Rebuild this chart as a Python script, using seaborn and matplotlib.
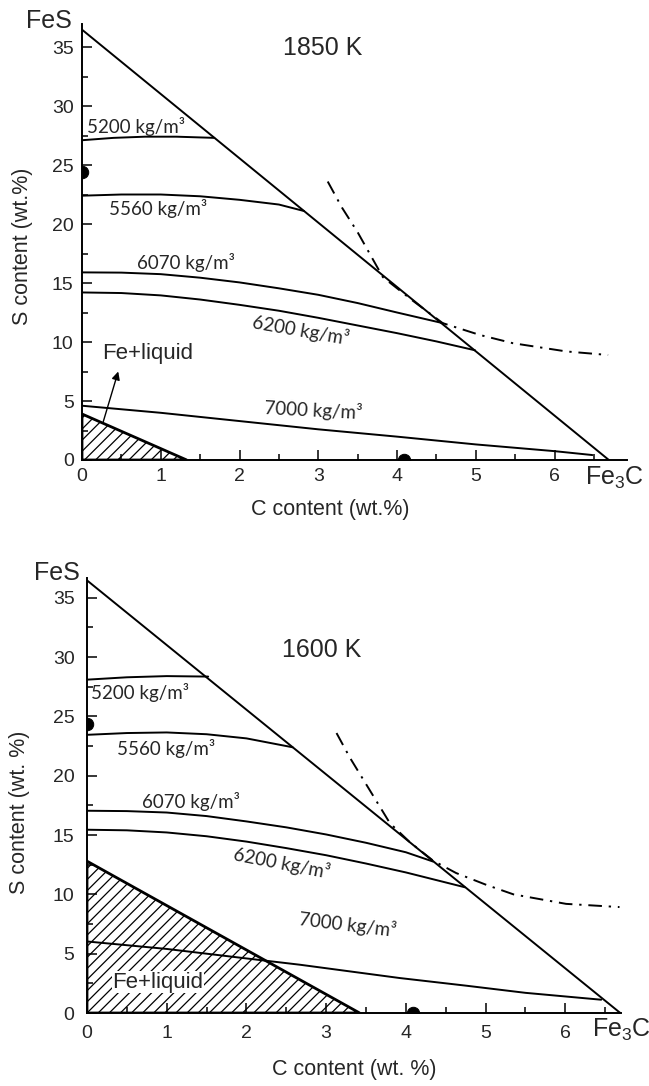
import numpy as np
import pandas as pd
import matplotlib
matplotlib.use("Agg")
import matplotlib.pyplot as plt
import seaborn as sns

# ---------------- data ----------------
fes_s = 36.47      # wt.% S in FeS
fe3c_c = 6.69      # wt.% C in Fe3C

# 1850 K isodensity curves (C wt.%, S wt.%)
t1_5200_x = [0, 0.4, 0.8, 1.2, 1.68]
t1_5200_y = [27.1, 27.3, 27.4, 27.4, 27.3]
t1_5560_x = [0, 0.5, 1.0, 1.5, 2.0, 2.5, 2.82]
t1_5560_y = [22.4, 22.5, 22.5, 22.35, 22.05, 21.65, 21.1]
t1_6070_x = [0, 0.5, 1.0, 1.5, 2.0, 2.5, 3.0, 3.5, 4.0, 4.58]
t1_6070_y = [15.9, 15.88, 15.75, 15.45, 15.05, 14.55, 14.0, 13.3, 12.5, 11.6]
t1_6200_x = [0, 0.5, 1.0, 1.5, 2.0, 2.5, 3.0, 3.5, 4.0, 4.5, 4.99]
t1_6200_y = [14.2, 14.15, 13.95, 13.6, 13.15, 12.65, 12.05, 11.4, 10.75, 10.05, 9.3]
t1_7000_x = [0, 1, 2, 3, 4, 5, 6, 6.48]
t1_7000_y = [4.6, 4.0, 3.3, 2.6, 1.98, 1.32, 0.75, 0.42]
t1_dd_x = [3.12, 3.3, 3.5, 3.82, 4.2, 4.58, 5.05, 5.47, 6.15, 6.68]
t1_dd_y = [23.6, 21.4, 19.3, 15.5, 13.5, 11.6, 10.6, 9.9, 9.2, 8.9]
t1_fe_x = [0, 0, 1.33]
t1_fe_y = [0, 3.9, 0]

# 1600 K isodensity curves
t2_5200_x = [0, 0.5, 1.0, 1.52]
t2_5200_y = [28.1, 28.3, 28.4, 28.36]
t2_5560_x = [0, 0.5, 1.0, 1.5, 2.0, 2.58]
t2_5560_y = [23.45, 23.6, 23.65, 23.5, 23.15, 22.4]
t2_6070_x = [0, 0.5, 1.0, 1.5, 2.0, 2.5, 3.0, 3.5, 4.0, 4.34]
t2_6070_y = [17.05, 17.02, 16.9, 16.6, 16.15, 15.65, 15.05, 14.35, 13.55, 12.77]
t2_6200_x = [0, 0.5, 1.0, 1.5, 2.0, 2.5, 3.0, 3.5, 4.0, 4.74]
t2_6200_y = [15.45, 15.4, 15.22, 14.9, 14.45, 13.9, 13.3, 12.6, 11.85, 10.6]
t2_7000_x = [0, 1, 2, 2.67, 3.92, 4.76, 5.5, 6.45]
t2_7000_y = [6.03, 5.4, 4.6, 4.07, 2.95, 2.3, 1.7, 1.12]
t2_dd_x = [3.13, 3.3, 3.5, 3.8, 4.05, 4.34, 4.63, 5.01, 5.35, 6.01, 6.68]
t2_dd_y = [23.6, 21.5, 19.3, 16.0, 14.4, 12.85, 11.8, 10.8, 10.0, 9.2, 8.93]
t2_fe_x = [0, 0, 3.42]
t2_fe_y = [0, 12.8, 0]

dots_x = [0, 4.09]
dots_y = [24.4, 0]

density_labels = ["5200 kg/m³", "5560 kg/m³", "6070 kg/m³", "6200 kg/m³", "7000 kg/m³"]

# ---------------- style ----------------
sns.set_style("ticks")
plt.rcParams["font.family"] = ["Liberation Sans", "DejaVu Sans"]
plt.rcParams["mathtext.fontset"] = "custom"
plt.rcParams["mathtext.rm"] = "Liberation Sans"
plt.rcParams["mathtext.it"] = "Liberation Sans:italic"
plt.rcParams["hatch.linewidth"] = 0.9

W, H = 649, 1086
fig = plt.figure(figsize=(W / 100, H / 100), dpi=100)

LW = 1.4
DD = (0, (7, 3.5, 1.2, 3.5))


def line(ax, xs, ys, **kw):
    sns.lineplot(x=xs, y=ys, sort=False, estimator=None, ax=ax,
                 color="black", lw=kw.pop("lw", LW), **kw)


def panel(ax, curves, dd, fe, labels_pos, title, title_pos, xlim, ylim,
          xlabel, ylabel, xpad, ypad, xlab_coords, ylab_coords):
    # FeS - Fe3C join
    line(ax, [0, fe3c_c], [fes_s, 0])
    for xs, ys in curves:
        line(ax, xs, ys)
    line(ax, dd[0], dd[1], linestyle=DD)
    # Fe + liquid field
    ax.fill(fe[0], fe[1], facecolor="none", edgecolor="black", hatch="///",
            lw=2.0, zorder=3)
    sns.scatterplot(x=dots_x, y=dots_y, ax=ax, color="black", s=80,
                    edgecolor="black", zorder=5)
    for txt, (x, y, rot) in zip(density_labels, labels_pos):
        ax.text(x, y, txt, ha="center", va="center", rotation=rot,
                rotation_mode="anchor", fontsize=13.5, family=["Lato", "DejaVu Sans"])
    ax.text(title_pos[0], title_pos[1], title, ha="center", va="center", fontsize=18)
    ax.set_xlim(*xlim)
    ax.set_ylim(*ylim)
    ax.set_xticks(np.arange(0, 7, 1))
    ax.set_xticks(np.arange(0.5, 6.6, 1), minor=True)
    ax.set_yticks(np.arange(0, 36, 5))
    ax.set_yticks(np.arange(2.5, 36, 5), minor=True)
    ax.tick_params(which="both", direction="in", width=1.1, color="black")
    ax.tick_params(which="major", length=7, labelsize=14)
    ax.tick_params(which="minor", length=4)
    ax.tick_params(axis="x", pad=xpad)
    ax.tick_params(axis="y", pad=ypad)
    for s in ["top", "right"]:
        ax.spines[s].set_visible(False)
    for s in ["left", "bottom"]:
        ax.spines[s].set_linewidth(1.4)
        ax.spines[s].set_color("black")
    ax.set_xlabel(xlabel, fontsize=15.5)
    ax.set_ylabel(ylabel, fontsize=15.5)
    ax.xaxis.set_label_coords(*xlab_coords)
    ax.yaxis.set_label_coords(*ylab_coords)


# top panel (1850 K)
ax1 = fig.add_axes([82 / W, (H - 460) / H, 545 / W, 436 / H])
panel(ax1,
      [(t1_5200_x, t1_5200_y), (t1_5560_x, t1_5560_y), (t1_6070_x, t1_6070_y),
       (t1_6200_x, t1_6200_y), (t1_7000_x, t1_7000_y)],
      (t1_dd_x, t1_dd_y), (t1_fe_x, t1_fe_y),
      [(0.68, 28.3, 0), (0.96, 21.3, 0), (1.32, 16.7, 0), (2.78, 11.0, -10), (2.94, 4.2, -3)],
      "1850 K", (3.05, 34.9), (0, 6.92), (0, 36.95),
      "C content (wt.%)", "S content (wt.%)", 6, 6,
      (0.455, -0.09), (-0.09, 0.49))
ax1.text(0.83, 9.0, "Fe+liquid", ha="center", va="center", fontsize=16)
ax1.annotate("", xy=(0.46, 7.5), xytext=(0.27, 3.25),
             arrowprops=dict(arrowstyle="-|>", lw=1.0, color="black", mutation_scale=12,
                             shrinkA=0, shrinkB=0))

# bottom panel (1600 K)
ax2 = fig.add_axes([87 / W, (H - 1013) / H, 534.5 / W, 435 / H])
panel(ax2,
      [(t2_5200_x, t2_5200_y), (t2_5560_x, t2_5560_y), (t2_6070_x, t2_6070_y),
       (t2_6200_x, t2_6200_y), (t2_7000_x, t2_7000_y)],
      (t2_dd_x, t2_dd_y), (t2_fe_x, t2_fe_y),
      [(0.67, 27.0, 0), (0.99, 22.3, 0), (1.30, 17.85, 0), (2.44, 12.66, -11), (3.27, 7.44, -7)],
      "1600 K", (2.94, 30.6), (0, 6.705), (0, 36.67),
      "C content (wt.%)".replace(".%", ". %"), "S content (wt. %)", 9, 9,
      (0.50, -0.106), (-0.106, 0.462))
ax2.text(0.89, 2.6, "Fe+liquid", ha="center", va="center", fontsize=16, zorder=4,
         bbox=dict(facecolor="white", edgecolor="none", pad=0.5))

# corner compound labels
fig.text(72 / W, 1 - 28 / H, "FeS", ha="right", va="baseline", fontsize=18)
fig.text(585 / W, 1 - 485 / H, "Fe$_3$C", ha="left", va="baseline", fontsize=18)
fig.text(80 / W, 1 - 580 / H, "FeS", ha="right", va="baseline", fontsize=18)
fig.text(592 / W, 1 - 1037 / H, "Fe$_3$C", ha="left", va="baseline", fontsize=18)

fig.savefig("out.png", dpi=100)
